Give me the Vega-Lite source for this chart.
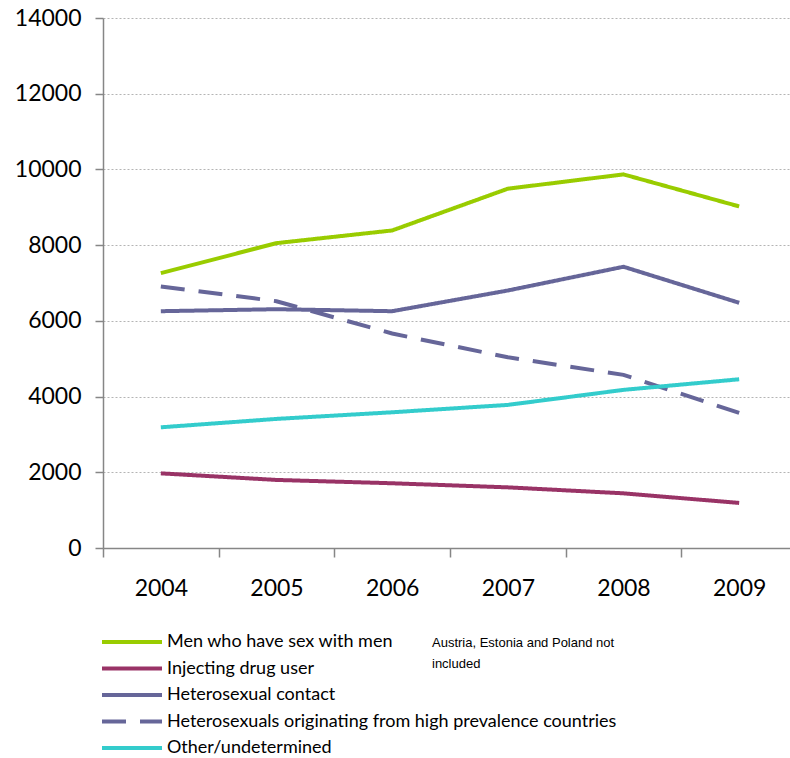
{
  "$schema": "https://vega.github.io/schema/vega-lite/v6.json",
  "width": 694,
  "height": 530,
  "autosize": "none",
  "padding": {"left": 103, "top": 18, "right": 0, "bottom": 210},
  "background": "white",
  "config": {"view": {"stroke": null}, "font": "Lato"},
  "title": {
    "text": ["Austria, Estonia and Poland not", "included"],
    "orient": "bottom",
    "anchor": "start",
    "frame": "group",
    "offset": -124,
    "dx": 329,
    "font": "Liberation Sans",
    "fontSize": 13,
    "fontWeight": "normal",
    "lineHeight": 21,
    "color": "#000000"
  },
  "data": {
    "values": [
      {"year": "2004", "group": "Men who have sex with men", "cases": 7260},
      {"year": "2005", "group": "Men who have sex with men", "cases": 8053},
      {"year": "2006", "group": "Men who have sex with men", "cases": 8388},
      {"year": "2007", "group": "Men who have sex with men", "cases": 9491},
      {"year": "2008", "group": "Men who have sex with men", "cases": 9869},
      {"year": "2009", "group": "Men who have sex with men", "cases": 9023},
      {"year": "2004", "group": "Injecting drug user", "cases": 1972},
      {"year": "2005", "group": "Injecting drug user", "cases": 1798},
      {"year": "2006", "group": "Injecting drug user", "cases": 1710},
      {"year": "2007", "group": "Injecting drug user", "cases": 1602},
      {"year": "2008", "group": "Injecting drug user", "cases": 1444},
      {"year": "2009", "group": "Injecting drug user", "cases": 1190},
      {"year": "2004", "group": "Heterosexual contact", "cases": 6255},
      {"year": "2005", "group": "Heterosexual contact", "cases": 6308},
      {"year": "2006", "group": "Heterosexual contact", "cases": 6255},
      {"year": "2007", "group": "Heterosexual contact", "cases": 6802},
      {"year": "2008", "group": "Heterosexual contact", "cases": 7429},
      {"year": "2009", "group": "Heterosexual contact", "cases": 6477},
      {"year": "2004", "group": "Heterosexuals originating from high prevalence countries", "cases": 6908},
      {"year": "2005", "group": "Heterosexuals originating from high prevalence countries", "cases": 6519},
      {"year": "2006", "group": "Heterosexuals originating from high prevalence countries", "cases": 5665},
      {"year": "2007", "group": "Heterosexuals originating from high prevalence countries", "cases": 5039},
      {"year": "2008", "group": "Heterosexuals originating from high prevalence countries", "cases": 4573},
      {"year": "2009", "group": "Heterosexuals originating from high prevalence countries", "cases": 3569},
      {"year": "2004", "group": "Other/undetermined", "cases": 3188},
      {"year": "2005", "group": "Other/undetermined", "cases": 3410},
      {"year": "2006", "group": "Other/undetermined", "cases": 3585},
      {"year": "2007", "group": "Other/undetermined", "cases": 3780},
      {"year": "2008", "group": "Other/undetermined", "cases": 4177},
      {"year": "2009", "group": "Other/undetermined", "cases": 4457}
    ]
  },
  "mark": {"type": "line", "strokeWidth": 4, "strokeCap": "butt"},
  "encoding": {
    "x": {
      "field": "year",
      "type": "ordinal",
      "scale": {"paddingInner": 0, "paddingOuter": 0},
      "axis": {
        "title": null,
        "labelAngle": 0,
        "tickBand": "extent",
        "tickSize": 9,
        "tickColor": "#868686",
        "tickWidth": 1.5,
        "domainColor": "#868686",
        "domainWidth": 1.5,
        "labelFontSize": 23,
        "labelColor": "#000000",
        "labelPadding": 20,
        "grid": false
      }
    },
    "y": {
      "field": "cases",
      "type": "quantitative",
      "scale": {"domain": [0, 14000], "nice": false},
      "axis": {
        "title": null,
        "values": [0, 2000, 4000, 6000, 8000, 10000, 12000, 14000],
        "format": "d",
        "grid": true,
        "gridDash": [2, 2],
        "gridColor": "#b4b4b4",
        "gridWidth": 1,
        "tickSize": 8,
        "tickColor": "#868686",
        "tickWidth": 1.5,
        "domainColor": "#868686",
        "domainWidth": 1.5,
        "labelFontSize": 23,
        "labelColor": "#000000",
        "labelPadding": 14
      }
    },
    "color": {
      "field": "group",
      "type": "nominal",
      "scale": {
        "domain": ["Men who have sex with men", "Injecting drug user", "Heterosexual contact", "Heterosexuals originating from high prevalence countries", "Other/undetermined"],
        "range": ["#99cc00", "#993366", "#666699", "#666699", "#33cccc"]
      },
      "legend": {
        "title": null,
        "orient": "none",
        "legendX": -3,
        "legendY": 611,
        "direction": "vertical",
        "clipHeight": 26,
        "symbolType": "stroke",
        "symbolSize": 3600,
        "symbolStrokeWidth": 4,
        "labelFontSize": 18,
        "labelColor": "#000000",
        "labelLimit": 0,
        "labelOffset": 3,
        "rowPadding": 0.5,
        "padding": 0
      }
    },
    "strokeDash": {
      "field": "group",
      "type": "nominal",
      "scale": {
        "domain": ["Men who have sex with men", "Injecting drug user", "Heterosexual contact", "Heterosexuals originating from high prevalence countries", "Other/undetermined"],
        "range": [[1, 0], [1, 0], [1, 0], [24, 14], [1, 0]]
      },
      "legend": {
        "title": null,
        "orient": "none",
        "legendX": -3,
        "legendY": 611,
        "direction": "vertical",
        "clipHeight": 26,
        "symbolType": "stroke",
        "symbolSize": 3600,
        "symbolStrokeWidth": 4,
        "labelFontSize": 18,
        "labelColor": "#000000",
        "labelLimit": 0,
        "labelOffset": 3,
        "rowPadding": 0.5,
        "padding": 0
      }
    }
  }
}
